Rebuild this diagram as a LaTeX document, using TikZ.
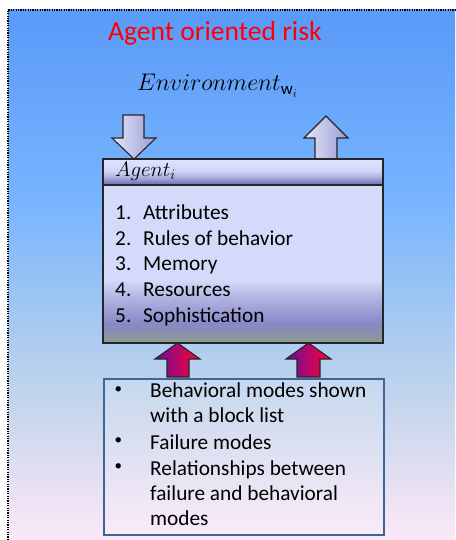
\documentclass[tikz,border=0pt]{standalone}
\usepackage{fix-cm}
\usepackage{fontspec}
\setmainfont{Carlito}
\usetikzlibrary{positioning}

\definecolor{titlered}{HTML}{FF0000}
\definecolor{boxblue}{HTML}{3F6496}
\definecolor{arrowlight}{HTML}{E4E8FD}
\definecolor{arrowdark}{HTML}{9A9AD2}
\definecolor{hotleft}{HTML}{6A0C9E}
\definecolor{hotright}{HTML}{FF0432}

% background and box fills
\pgfdeclareverticalshading{skyfade}{100bp}{%
  rgb(0bp)=(0.988,0.910,0.973); rgb(25bp)=(0.988,0.910,0.973);
  rgb(38bp)=(0.769,0.835,0.925); rgb(47.6bp)=(0.616,0.776,0.957);
  rgb(57bp)=(0.471,0.706,0.996); rgb(75bp)=(0.353,0.604,0.973);
  rgb(100bp)=(0.353,0.604,0.973)}
\pgfdeclareverticalshading{headband}{100bp}{%
  rgb(0bp)=(0.55,0.55,0.77); rgb(25bp)=(0.55,0.55,0.77);
  rgb(29bp)=(0.47,0.47,0.72); rgb(38bp)=(0.65,0.65,0.85);
  rgb(52bp)=(0.82,0.84,0.97); rgb(75bp)=(0.87,0.89,0.99);
  rgb(100bp)=(0.87,0.89,0.99)}
\pgfdeclareverticalshading{agentfill}{100bp}{%
  rgb(0bp)=(0.55,0.62,0.55); rgb(25bp)=(0.55,0.62,0.55);
  rgb(31bp)=(0.53,0.53,0.78); rgb(38.6bp)=(0.68,0.69,0.87);
  rgb(45bp)=(0.83,0.86,0.98); rgb(75bp)=(0.83,0.86,0.98);
  rgb(100bp)=(0.83,0.86,0.98)}

\begin{document}
\begin{tikzpicture}[x=1pt,y=-1pt,every node/.style={inner sep=0pt},
  bigtext/.style={anchor=base west,font=\fontsize{21.3}{25}\selectfont},
  dot/.style={anchor=center,font=\fontsize{15}{15}\selectfont},
  agentbox/.style={draw=black!85,line width=1.3pt,outer sep=0pt,minimum width=280pt,anchor=north west},
  lightarrow/.style={draw=black!85,line width=1.1pt,left color=arrowlight,right color=arrowdark},
  hotarrow/.style={draw=black!85,line width=1.1pt,left color=hotleft,right color=hotright}]
\useasboundingbox (0,0) rectangle (455,540);
\shade[shading=skyfade] (8,10) rectangle (455,540);
\draw[line width=1.4pt,dash pattern=on 1.2pt off 1.2pt] (8,540) -- (8,10) -- (455,10);

\node[anchor=base west,text=titlered,font=\fontsize{27.6}{32}\selectfont] (title) at (108,41) {Agent oriented risk};
\node[anchor=base west,font=\fontsize{24}{28}\selectfont] (env) at (137,91) {$Environment_{\mathrm{w}_i}$};

% in and out of the environment
\shade[lightarrow] (123,115) -- (144,115) -- (144,138) -- (156,138) -- (134,159) -- (112,138) -- (123,138) -- cycle;
\shade[lightarrow] (315,159) -- (337,159) -- (337,138) -- (348,138) -- (326,116) -- (304,138) -- (315,138) -- cycle;
\shade[hotarrow] (167,377) -- (189,377) -- (189,359) -- (200,359) -- (177.5,343) -- (155,359) -- (167,359) -- cycle;
\shade[hotarrow] (297,377) -- (320,377) -- (320,359) -- (331,359) -- (308.5,343) -- (286,359) -- (297,359) -- cycle;

% agent
\node[agentbox,shading=agentfill,minimum height=158pt] (agentbody) at (103,185) {};
\node[agentbox,shading=headband,minimum height=26pt] (agenthead) at (103,159) {};
\node[anchor=base west,font=\fontsize{21}{24}\selectfont] (agentname) at (115,176) {$Agent_i$};
\node[bigtext] (attr) at (115,219) {\makebox[28pt][l]{1.}Attributes};
\node[bigtext] (rules) at (115,245) {\makebox[28pt][l]{2.}Rules of behavior};
\node[bigtext] (memory) at (115,270.7) {\makebox[28pt][l]{3.}Memory};
\node[bigtext] (resources) at (115,296.5) {\makebox[28pt][l]{4.}Resources};
\node[bigtext] (soph) at (115,322) {\makebox[28pt][l]{5.}Sophistication};

% modes
\node[draw=boxblue,line width=1.5pt,fill=white,fill opacity=0.15,minimum width=280pt,minimum height=156pt,anchor=north west] (modes) at (103,378) {};
\node[dot] (dota) at (118.3,390) {\textbullet};
\node[bigtext] (behav) at (150,397.7) {Behavioral modes shown};
\node[bigtext] (behavb) at (150,422.7) {with a block list};
\node[dot] (dotb) at (118.3,441.3) {\textbullet};
\node[bigtext] (fail) at (150,449) {Failure modes};
\node[dot] (dotc) at (118.3,467.3) {\textbullet};
\node[bigtext] (rel) at (150,475) {Relationships between};
\node[bigtext] (relb) at (150,500) {failure and behavioral};
\node[bigtext] (relc) at (150,525.7) {modes};
\end{tikzpicture}
\end{document}
